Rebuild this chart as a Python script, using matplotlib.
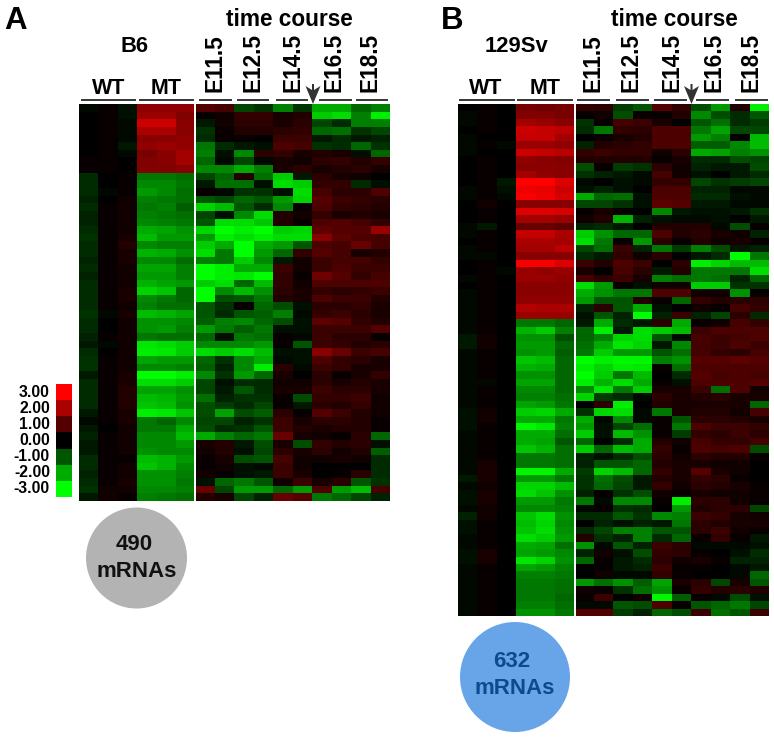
import numpy as np
import matplotlib
matplotlib.use("Agg")
import matplotlib.pyplot as plt
from matplotlib.colors import LinearSegmentedColormap
from matplotlib.patches import Circle, Polygon

# values, red = up, green = down
a_wt = [[-.1,.1,-.2],[0,.1,-.2],[0,.1,-.1],[0,.1,-.1],[0,.1,-.1],[0,.1,-.3],[0,.1,-.1],[.1,.1,0],[.1,.1,0],
[-.5,0,.1],[-.5,0,.1],[-.5,-.1,.1],[-.4,0,.2],[-.5,.1,.2],[-.4,.1,.2],[-.4,.1,.2],[-.5,.1,.2],[-.6,.1,.3],[-.5,.1,.4],[-.5,.1,.3],
[-.4,.1,.3],[-.5,.1,.2],[-.4,.1,.2],[-.5,.1,.2],[-.5,.1,.3],[-.5,.1,.3],[-.5,.1,.2],[-.6,-.1,.3],[-.5,0,.2],[-.5,0,.2],[-.4,.1,.2],[-.3,-.1,.2],
[-.5,0,.2],[-.6,.1,.2],[-.6,.1,.2],[-.3,.1,.3],[-.5,.1,.3],[-.5,.1,.4],[-.5,.1,.4],[-.5,.1,.4],[-.3,.1,.3],[-.1,.1,.3],[-.3,0,.2],[-.4,.1,.2],
[-.3,.1,.2],[-.3,.1,.2],[-.5,.1,.1],[-.5,.1,.2],[-.4,.1,.2],[-.5,.1,.3],[-.6,.2,.2],[-.3,.2,.1]]
a_mt = [[1.7,1.7,1.7],[1.8,1.8,1.5],[2.4,2.4,1.6],[2.0,2.0,1.6],[1.6,1.6,1.7],[1.7,1.8,1.7],[1.4,1.6,1.9],[1.5,1.6,1.9],[1.5,1.5,1.6],
[-1.4,-1.4,-1.3],[-1.6,-1.6,-1.4],[-1.8,-1.6,-1.3],[-1.5,-1.4,-1.3],[-1.4,-1.5,-1.1],[-1.5,-1.4,-1.3],[-1.6,-1.5,-1.4],[-2,-1.9,-1.7],
[-2.2,-1.8,-1.8],[-1.6,-1.5,-1.5],[-2.1,-2,-1.7],[-1.6,-1.6,-1.3],[-1.9,-1.9,-1.5],[-1.8,-1.8,-1.5],[-2.1,-1.9,-1.8],[-2.5,-2.3,-1.2],
[-1.6,-1.4,-1.2],[-1.5,-1.3,-1.3],[-2.2,-2.1,-1.9],[-1.7,-1.7,-1.6],[-1.7,-1.8,-1.5],[-1.4,-1.3,-1.3],[-2.7,-2.6,-2.4],[-2.8,-2.7,-2.4],
[-1.9,-1.8,-1.8],[-1.6,-1.6,-1.5],[-3,-3,-2.8],[-2.6,-2.6,-2.4],[-1.9,-1.9,-1.7],[-2.2,-2.1,-1.8],[-2.3,-2.2,-1.7],[-2.8,-2.7,-2.3],
[-1.4,-1.2,-1.6],[-1.4,-1.4,-2],[-1.6,-1.6,-2.2],[-1.6,-1.6,-1.8],[-1.7,-1.6,-1.6],[-2.2,-2.1,-1.8],[-2.3,-2.1,-1.6],[-1.7,-1.7,-1.5],
[-1.7,-1.7,-1.4],[-1.6,-1.6,-1.5],[-1.5,-1.4,-1.3]]
a_time = [[1,.8,-.8,-.6,-1.5,-.6,-2,-2,-1.2,-1.5],
[.1,.2,.6,.6,.3,.4,-2.4,-2.6,-1.5,-2.8],
[-.3,.2,.5,.5,.3,.5,-.8,-.5,-1.5,-1.5],
[-.6,.1,.4,.4,.5,.6,-1.2,-1.3,-.6,-.8],
[-.5,.1,.1,0,.7,.7,-.3,-.5,-.3,-.4],
[-1.4,-.5,-.3,-.2,.9,.8,-.6,-.5,-1.2,-.6],
[-1.5,-.2,-1.6,.5,.6,.3,.4,.3,-.2,-1.2],
[-1.2,-.1,-.8,-.1,.3,.2,.5,.6,.4,.6],
[-1.6,-1.6,-2,-1.5,.3,.5,.3,.4,.5,.3],
[-.8,-1.2,.4,-1.3,-2.4,-.3,.5,.3,.2,0],
[-.3,-1.3,-1.3,-.2,-2.6,-2.4,.6,.6,-.5,-.2],
[.1,-.1,-.6,-.6,-.2,-2.6,.8,.5,.5,.9],
[-1,-.8,-1.2,-1,-1.8,-2.5,1,.7,.6,.5],
[-2.5,-2.2,-1,-.5,-1.6,.1,.9,.6,.5,.4],
[-.8,-.2,-1.6,-2.6,.4,.2,.6,.3,.4,.3],
[-1,-2.6,-2.6,-2.3,.4,.1,.9,1,.8,.6],
[-2.5,-3,-2.8,-3,-2.4,-2.5,1.1,1,1,1.8],
[-1.8,-2.8,-2.6,-2.8,-2.6,-2.6,1.6,1.1,.9,.8],
[-2.4,-2,-3,-2,-1.8,-1,.9,.8,1.2,.8],
[-2.6,-1.4,-3,-1.8,-1.2,.6,1,.8,.3,.4],
[-1.5,-1.4,-2.4,-1.6,-.3,.2,.7,.8,.8,.6],
[-3,-2.8,-2,-2,.7,.2,.7,.9,.7,.7],
[-3,-2.8,-2.7,-3,.6,.1,1.3,1,.6,.8],
[-2.4,-2.6,-1.2,-2.2,.6,.2,.9,.9,.9,.9],
[-3,-1.6,-2.2,-1.7,.5,.3,.6,.5,.6,.7],
[-3,-.9,-1,-1.4,.4,.3,.9,.7,.7,.4],
[-1,-.6,.1,-1.2,-.9,-.2,.5,.5,.6,.3],
[-1,-.5,-1,-1.1,-1.5,-.1,.6,.7,.5,.3],
[-1.1,-1.5,-1.6,-1.2,-.9,-.2,1.1,1,.6,.4],
[-1.8,-1.4,-1.1,-1.4,-.2,-.2,.7,.7,.7,1],
[-1.2,-.2,-1.4,-1.3,.1,-.1,.7,.5,.5,.1],
[-1.6,-1.6,-1.6,-1.8,.1,-1,.7,.6,.4,.5],
[-2.6,-2.4,-2.6,-2.2,-.2,-.2,1.6,1.2,.7,.8],
[-1.2,-.6,-1.6,-2,-.1,-.2,.9,.6,.5,.3],
[-1.1,-.4,-1.6,-2.8,.5,-.1,.7,.6,.3,.3],
[-1.6,-.6,-1.8,-1.2,.3,0,.5,.1,.3,.6],
[-.8,-.2,-.5,-.5,.2,.2,.5,.3,.4,.3],
[-.8,-.3,-1,-.5,.3,.3,.7,.5,.5,.3],
[-1.3,-.4,-.6,-.6,.1,-.9,.6,.6,.7,.2],
[-.9,-.7,-.5,-.8,.1,-.3,.5,.4,.6,.2],
[-.9,-1.9,-.9,-1.1,.5,.1,1,.7,.4,.2],
[-.8,-.8,-.4,-.6,.7,.3,.5,.5,.4,.1],
[-.9,-.5,-.6,-1,.7,.4,.3,.4,.4,.1],
[-2,-1.5,-1.2,-1.4,1.2,.3,.2,.1,.5,-1.2],
[.3,.4,-.3,-.9,.3,-.9,.6,.4,.5,-.2],
[.2,.4,-.2,-.8,.5,.3,.5,.2,.4,-1.1],
[.1,.3,-.9,-1,.8,.2,.2,.3,.2,-.5],
[.1,.2,-.2,-.1,.7,.2,0,0,0,-.5],
[.2,.1,-.2,-.3,.7,.3,0,.1,.5,-.5],
[-.2,-1.2,-1.4,-1,.2,.7,.3,.5,-1,-.6],
[1.2,-.8,-1.8,-1.8,-1.2,-1.8,.9,-1.8,-2.2,.8],
[.4,.3,-.8,-.4,1.2,1,-1.4,-1.2,-.8,-.4]]

b_wt = [[0,.1,0],[-.1,.1,0],[-.1,.1,0],[0,.1,0],[-.1,0,0],[-.1,.1,-.1],[-.1,0,0],[0,.1,0],[0,.1,0],[0,.1,0],
[0,.1,-.3],[-.1,.1,-.2],[-.1,.1,-.1],[0,.2,0],[0,.1,0],[0,.1,0],[-.1,-.3,0],[-.1,.1,0],[0,.1,0],[-.1,.1,0],
[-.1,-.1,0],[0,.1,0],[0,.1,-.1],[-.1,.1,0],[0,.1,0],[-.1,.1,0],[-.1,.1,0],[-.1,.1,0],[-.1,.1,0],[-.1,.1,0],
[-.1,.1,0],[-.3,.2,0],[-.3,.2,0],[-.1,.1,0],[-.1,.1,0],[-.1,.1,0],[-.1,.1,0],[-.1,-.1,0],[-.1,.1,0],[-.1,.1,0],
[-.1,.1,0],[-.2,.2,0],[-.2,.2,0],[-.2,.1,0],[-.1,.1,0],[-.1,.1,0],[-.1,.1,0],[-.1,.1,0],[-.1,.3,0],[-.1,.3,0],
[-.3,.3,0],[-.1,.2,0],[-.2,.3,0],[-.2,.3,0],[-.1,.2,0],[-.4,.2,0],[-.2,.1,0],[-.2,.1,0],[-.1,.1,0],[-.1,.1,0],
[-.2,.3,0],[-.2,.3,0],[-.1,.1,0],[-.1,.1,0],[-.1,.1,0],[-.1,.1,0],[-.1,.1,0],[-.1,.1,0],[-.1,.1,0]]
b_mt = [[1.4,1.3,1.4],[1.5,1.5,1.4],[1.9,1.8,1.6],[2.4,2.3,2.2],[2.3,2.3,1.9],[1.8,1.8,1.7],[2.4,2.3,2.2],[1.7,1.6,1.5],[1.6,1.6,1.6],[1.9,1.7,1.6],
[3,3,2.6],[2.8,2.7,2.4],[2.9,2.8,2.5],[1.6,1.6,1.6],[2.6,2.6,2.5],[1.9,1.9,1.8],[1.2,1.2,1.1],[2.3,2.3,2],[2,2,1.9],[1.9,1.9,2.2],
[1.6,1.6,1.6],[2.9,2.9,2.6],[1.8,1.7,1.8],[1.8,1.8,1.7],[1.6,1.6,1.6],[1.6,1.6,1.6],[1.7,1.7,1.7],[2.1,2,2],[1.8,1.8,1.8],
[-1.4,-1.4,-1.2],[-2.1,-2.4,-1.5],[-1.7,-1.7,-.9],[-1.8,-1.8,-1.2],[-1.7,-1.8,-1.1],[-2.3,-2.2,-1.2],[-2.1,-2,-1.2],[-1.7,-1.7,-1.2],[-1.9,-1.9,-1.2],
[-1.6,-1.6,-1.2],[-1.5,-1.5,-1.3],[-1.9,-1.8,-1.4],[-2.4,-2.5,-2],[-2,-2,-1.4],[-2.9,-2.7,-1.5],[-2,-2,-1.3],[-2,-1.9,-1],[-2.3,-2.1,-1.3],[-1.4,-1.4,-1.3],
[-1.4,-1.4,-1.3],[-2.9,-2.9,-2],[-1.8,-1.8,-1.4],[-2.5,-2.5,-2.2],[-2.6,-2.3,-1.7],[-1.8,-1.8,-1.4],[-1.6,-1.6,-1.5],[-2.3,-2.6,-1.7],[-2.2,-2.5,-1.6],
[-2.3,-2.6,-1.7],[-2.6,-2.4,-1.8],[-2,-1.9,-1.3],[-1.9,-1.8,-1.6],[-2.7,-2.5,-1.7],[-1.9,-1.8,-1.5],[-1.5,-1.5,-1.4],[-1.4,-1.4,-1.3],[-1.4,-1.4,-1.3],
[-1.4,-1.4,-1.2],[-1.5,-1.5,-1.3],[-1.7,-1.7,-1.4]]
b_time = [[.6,.5,-.7,-1,1,.6,-.9,-1.8,.4,-2.8],
[.1,.2,-.9,.1,.1,.4,-1.6,-.9,-.5,-1],
[-.6,.1,.8,.7,.3,0,-1,-1.3,-.5,-.7],
[-.5,-1.4,.6,.5,.9,.9,-1.4,-1.9,-.8,-.8],
[0,.1,.3,.4,.9,.9,-1.8,-1.5,0,-2.2],
[-.4,.4,.5,.6,.9,.9,-1.1,-1.1,-1.6,-2.2],
[.6,.7,.6,.6,.2,.5,-2,-1.9,-1.5,-1.7],
[.4,.4,.4,.4,.1,.3,-.5,-.5,-.9,-.8],
[-.9,.1,-.7,-.6,.5,.2,-.4,-.3,-.3,-.9],
[-.6,-.4,-.3,-.1,.8,.2,-.2,0,-.3,-.5],
[-.1,0,-.2,-.1,.6,.6,-.8,-.6,-.7,-.8],
[-.2,-.4,-.2,0,.9,.9,-.4,-.4,-.1,-.1],
[-2,-1.2,-1.3,-.2,.9,.9,-.5,-.5,-.2,-.1],
[-.8,-.8,-.6,-.2,1.1,1,-.3,-.3,-.1,-.1],
[.1,.3,.1,0,-1.6,-.3,-.2,-.2,-.3,-.6],
[.2,.4,-2.1,-.4,-.2,-.1,-.1,-.2,0,-.3],
[-.4,-.5,-.3,0,.4,.4,.4,-.1,-.9,.1],
[-2.4,-1.7,-1.2,-1.2,.9,.4,.5,.3,.2,-.4],
[-2.6,-1.4,.1,-1.8,.5,.1,.4,.2,.3,.1],
[-.8,-1.3,.7,-.4,-1.4,-.7,-1.5,-.9,-.3,-.4],
[-.5,-.3,.6,.2,.5,0,-.3,-.5,-3,-1.4],
[.7,.4,.9,.7,0,.5,-2.8,-2.5,-2.2,-2.2],
[.3,0,.8,.5,-.3,.4,-1.4,-1.4,-1.4,-2.6],
[.8,.5,.7,.3,-1.5,-1.3,-1.4,-1.3,-.4,-1.2],
[-2.6,-1.8,.1,-.2,.2,.2,-2.4,-2.4,-.6,-.6],
[-2,-1.7,-1.4,-1.4,.9,.9,.2,.2,-1.7,.1],
[-1.8,-1,-1,.4,.1,-1.2,.6,.4,.5,.5],
[-.4,.5,-1,-2,-.2,0,.2,.1,.8,.6],
[-.2,-1,-.4,-3,-.4,.7,-.4,-.8,.5,-.5],
[-.3,-2,-.5,-.3,.5,-2,.1,.2,.8,.6],
[-1.2,-2.8,-.3,-2.6,-2.4,-2.2,.7,.9,.9,.9],
[-1.2,-1.5,-2.5,-2.6,-1,-.1,.8,.7,.8,.9],
[-1.3,-2,-2.7,-2.5,-.3,-1.6,.8,.7,.9,.7],
[-1.4,-2.4,-1.8,-1.8,-1,-1.3,.8,.6,.5,.8],
[-3,-2.8,-2.9,-2.9,-1.5,-1.7,1,1,1.1,1],
[-2.8,-2.5,-2.8,-2.7,.1,-1.3,.9,.9,.9,.9],
[-3,-2.4,-1.4,-2.2,0,-.5,1,.8,.9,.8],
[-2.8,-2.1,-2.6,-2,.1,-.2,.9,.9,.9,1],
[-1.6,-2.7,-1.4,-2.4,.3,.3,.7,-1.3,.9,.2],
[-2.5,-.7,-.5,-.1,.5,.3,.4,.5,.3,.3],
[0,.5,-2.8,0,.4,.3,.3,.3,.3,-1.2],
[-.6,-2.5,-2.6,-.1,-1.4,.3,.4,.4,.2,.8],
[-2,-.1,-1.6,-.1,.1,-1,.5,.5,.4,.3],
[-1.8,-.2,-.8,-1.3,.1,-1.4,.9,.7,.7,.6],
[-2.4,-.2,-2.2,-1.7,.1,-.7,.6,.5,.7,.5],
[-1.2,0,-.5,-2,.4,.2,.8,.6,.6,.8],
[-2.4,-1.2,-2.2,-2,.6,.1,.9,.8,.9,-.9],
[-.4,-.2,-.5,-.9,.5,.2,.5,.4,.4,.1],
[-.4,-1,-1,-1.2,.4,.3,.3,.2,.2,0],
[-.7,-2.5,-2.2,-1.2,.6,.3,1,.3,.2,0],
[-.6,-1.3,-.9,-.3,.4,.3,.6,.5,.1,0],
[-.6,-1.2,-.8,-.3,.6,.2,.5,.4,.3,.1],
[-.4,.1,-.6,-.9,.2,.1,.3,.2,.2,.1],
[-1.4,-.1,-1.6,-1.6,.1,-2.8,.5,.5,.2,.1],
[-.1,.1,-.6,-.5,0,-1.8,.4,.5,.5,-.8],
[-.5,-.5,-1,-.6,-1.6,-1.5,.7,.6,.3,.2],
[0,-.4,-.2,-.4,-.3,-1.4,.5,.4,.3,.3],
[-.5,-.8,-1.5,-1.5,-1,-1,.5,.7,.2,.1],
[.4,-.6,-.4,-1.5,-.5,-1.2,.1,.6,.1,-.3],
[-1.7,-.1,-1,-.4,.7,.5,-.1,-.1,-.1,-.2],
[-.4,.2,-.2,-.9,.6,.5,.1,0,-.2,-.5],
[-1.2,.1,-.3,-.5,.5,.2,.3,.1,-.4,-.4],
[0,.1,-.3,-.4,.7,.1,.1,0,-.1,-.3],
[0,.2,-.1,-.1,.6,.1,0,0,-.1,-1.2],
[-1.8,-1.3,-1.7,-1.1,-1.9,.3,.5,-.8,.3,-1],
[.2,.1,-.6,-1.3,-1.7,.1,.6,.4,.5,.4],
[.1,.7,0,.2,-2.9,-1.1,.1,-.1,-.9,-.2],
[-.1,-.1,-1,-.9,.9,.1,-1,-1.2,-1.4,-.8],
[1,1,-.7,-.4,-1.2,-.9,.7,-1.3,-1,.7]]

scale_levels = [3, 2, 1, 0, -1, -2, -3]
scale_labels = ["3.00", "2.00", "1.00", "0.00", "-1.00", "-2.00", "-3.00"]
time_labels = ["E11.5", "E12.5", "E14.5", "E16.5", "E18.5"]

plt.rcParams["font.family"] = ["Liberation Sans", "DejaVu Sans"]
cmap = LinearSegmentedColormap.from_list("gbr", ["#00ff00", "#000000", "#ff0000"])

fig = plt.figure(figsize=(7.74, 7.37), dpi=100)
# one axes over the whole figure, in image pixels
ax = fig.add_axes([0, 0, 1, 1])


def heat(wt, mt, tc, x0, x1, y0, y1):
    rows = np.hstack([np.array(wt), np.array(mt), np.array(tc)])
    ax.imshow(rows, cmap=cmap, vmin=-3, vmax=3, aspect="auto",
              interpolation="nearest", extent=(x0, x1, y1, y0))
    # white split between MT and the time course
    ax.plot([x0 + (x1 - x0) * 6 / 16] * 2, [y0, y1], color="white", lw=1.4)


heat(a_wt, a_mt, a_time, 78.7, 389.3, 104, 501)
heat(b_wt, b_mt, b_time, 458, 769, 104, 616)

# colour scale
ax.imshow(np.array(scale_levels).reshape(-1, 1), cmap=cmap, vmin=-3, vmax=3, aspect="auto",
          interpolation="nearest", extent=(56, 72, 497, 384))
for i, lab in enumerate(scale_labels):
    ax.text(50, 392 + i * 16.1, lab, ha="right", va="center", fontsize=11.4, fontweight="bold")

# header bars
bars_a = [(81, 136), (139, 194), (199, 232), (237, 269), (276, 308), (319, 352), (356, 388)]
bars_b = [(459, 515), (517, 573), (577, 610), (616, 649), (654, 687), (696, 729), (735, 768)]
for b in bars_a + bars_b:
    ax.plot(b, [99.5, 99.5], color="black", lw=1.1, solid_capstyle="butt")

# headers
ax.text(4.5, 28.5, "A", fontsize=22.5, fontweight="bold", va="baseline")
ax.text(440.5, 28.5, "B", fontsize=22.5, fontweight="bold", va="baseline")
for x in [289.5, 674]:
    ax.text(x, 26, "time course", fontsize=16.3, fontweight="bold", ha="center", va="baseline")
ax.text(135, 52, "B6", fontsize=15.8, fontweight="bold", ha="center", va="baseline")
ax.text(517, 52, "129Sv", fontsize=15.8, fontweight="bold", ha="center", va="baseline")
for x, lab in [(108.5, "WT"), (166, "MT"), (486, "WT"), (545, "MT")]:
    ax.text(x, 94, lab, fontsize=15.5, fontweight="bold", ha="center", va="baseline")
for xs in [[215, 253, 293, 334, 370], [593, 631, 672, 714, 751]]:
    for x, lab in zip(xs, time_labels):
        ax.text(x, 92, lab, rotation=90, fontsize=16.3, fontweight="bold", ha="center", va="bottom")

# arrows at E14.5 / E16.5
for x in [313, 691.5]:
    ax.add_patch(Polygon([(x - 7.5, 86), (x - 1, 90), (x - 1, 84), (x + 1, 84), (x + 1, 90), (x + 7.5, 86), (x, 104)],
                         closed=True, color="#333333", lw=0, zorder=5))

# count circles
ax.add_patch(Circle((136.5, 558), 50.5, color="#b3b3b3", lw=0))
ax.text(134, 550, "490", fontsize=16, fontweight="bold", ha="center", va="baseline", color="#111111")
ax.text(136.5, 577, "mRNAs", fontsize=16, fontweight="bold", ha="center", va="baseline", color="#111111")
ax.add_patch(Circle((515, 677), 55, color="#68a5e8", lw=0))
ax.text(512, 667, "632", fontsize=16, fontweight="bold", ha="center", va="baseline", color="#0b4a8e")
ax.text(515, 694, "mRNAs", fontsize=16, fontweight="bold", ha="center", va="baseline", color="#0b4a8e")

ax.set_xlim(0, 774)
ax.set_ylim(737, 0)
ax.axis("off")
plt.savefig("out.png", dpi=100)
